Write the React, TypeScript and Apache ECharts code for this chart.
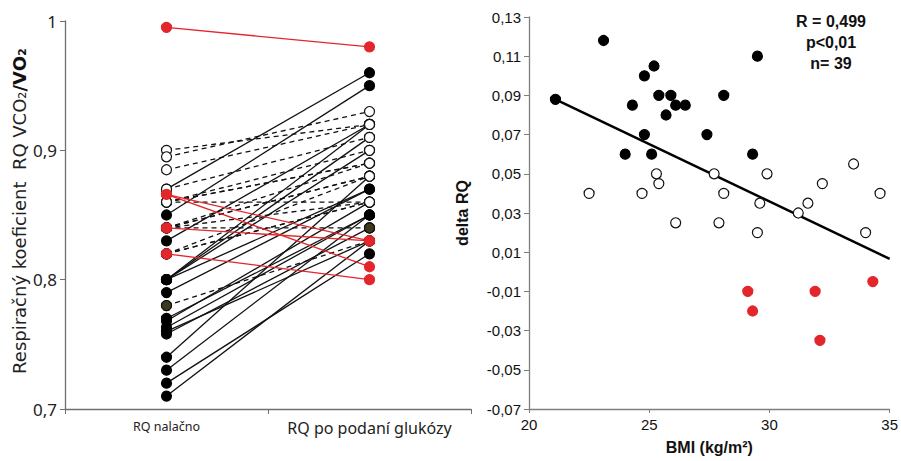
import React, { useEffect, useRef } from "react";
import * as echarts from "echarts";

// ---- Left panel: paired RQ values (before = nalačno, after = po glukóze)
const categories = ["RQ nalačno", "RQ po podaní glukózy"];
const leftTicks = [0.7, 0.8, 0.9, 1.0];

const openBefore = [0.9, 0.895, 0.885, 0.87, 0.86, 0.86, 0.84, 0.84, 0.84, 0.84, 0.82, 0.82, 0.82, 0.86, 0.84, 0.78, 0.86];
const openAfter = [0.92, 0.93, 0.92, 0.91, 0.9, 0.89, 0.88, 0.89, 0.88, 0.86, 0.88, 0.86, 0.86, 0.86, 0.84, 0.83, 0.89];

const blackBefore = [0.87, 0.85, 0.83, 0.8, 0.8, 0.8, 0.79, 0.8, 0.768, 0.763, 0.758, 0.74, 0.73, 0.72, 0.71, 0.77, 0.76];
const blackAfter = [0.96, 0.95, 0.92, 0.92, 0.91, 0.9, 0.87, 0.87, 0.86, 0.85, 0.84, 0.88, 0.85, 0.82, 0.83, 0.85, 0.83];

const redBefore = [0.995, 0.866, 0.866, 0.84, 0.82];
const redAfter = [0.98, 0.83, 0.81, 0.83, 0.8];

const oliveLeft = [0.78];
const oliveRight = [0.84];

// ---- Right panel: delta RQ vs BMI
const blackBMI = [21.1, 23.1, 24.8, 25.2, 24.3, 25.4, 25.9, 25.7, 26.1, 26.5, 24.8, 24.0, 25.1, 27.4, 28.1, 29.3, 29.5];
const blackDelta = [0.088, 0.118, 0.1, 0.105, 0.085, 0.09, 0.09, 0.08, 0.085, 0.085, 0.07, 0.06, 0.06, 0.07, 0.09, 0.06, 0.11];

const openBMI = [22.5, 24.7, 25.3, 25.4, 26.1, 27.7, 28.1, 27.9, 29.6, 29.5, 29.9, 31.2, 31.6, 32.2, 33.5, 34.0, 34.6];
const openDelta = [0.04, 0.04, 0.05, 0.045, 0.025, 0.05, 0.04, 0.025, 0.035, 0.02, 0.05, 0.03, 0.035, 0.045, 0.055, 0.02, 0.04];

const redBMI = [29.1, 29.3, 31.9, 32.1, 34.3];
const redDelta = [-0.01, -0.02, -0.01, -0.035, -0.005];

const trendBMI = [21.1, 35];
const trendDelta = [0.088, 0.0066];

const statLines = ["R = 0,499", "p<0,01", "n= 39"];

const RED = "#e3262b";
const OLIVE = "#3b3a1c";

export default function App() {
  const ref = useRef<HTMLDivElement>(null);

  useEffect(() => {
    if (!ref.current) return;
    const chart = echarts.init(ref.current, null, { renderer: "svg" });

    const pairSeries: any[] = [];
    const addPairs = (b: number[], a: number[], color: string, type: any) => {
      b.forEach((v, i) => {
        pairSeries.push({
          type: "line",
          xAxisIndex: 0,
          yAxisIndex: 0,
          data: [v, a[i]],
          symbol: "none",
          silent: true,
          z: 2,
          lineStyle: { color, width: 1.3, type },
        });
      });
    };
    addPairs(openBefore, openAfter, "#111", [5, 4]);
    addPairs(blackBefore, blackAfter, "#111", "solid");
    addPairs(redBefore, redAfter, RED, "solid");

    const pts = (b: number[], a: number[]) => [
      ...b.map((v) => [0, v]),
      ...a.map((v) => [1, v]),
    ];

    const leftMarker = (data: any[], fill: string, border: string, z: number) => ({
      type: "scatter",
      xAxisIndex: 0,
      yAxisIndex: 0,
      data,
      symbol: "circle",
      symbolSize: 10,
      z,
      itemStyle: { color: fill, borderColor: border, borderWidth: 1.2, opacity: 1 },
    });

    const rightMarker = (xs: number[], ys: number[], fill: string, border: string) => ({
      type: "scatter",
      xAxisIndex: 1,
      yAxisIndex: 1,
      data: xs.map((x, i) => [x, ys[i]]),
      symbol: "circle",
      symbolSize: 10,
      z: 4,
      itemStyle: { color: fill, borderColor: border, borderWidth: 1.2, opacity: 1 },
    });

    const fmtLeft = (v: number) => String(+v.toFixed(2)).replace(".", ",");
    const fmtRight = (v: number) => v.toFixed(2).replace(".", ",");

    chart.setOption({
      animation: false,
      grid: [
        { left: 65, top: 21, width: 406, height: 388 },
        { left: 529, top: 17, width: 363, height: 392 },
      ],
      xAxis: [
        {
          type: "category",
          gridIndex: 0,
          data: categories,
          boundaryGap: true,
          axisLine: { lineStyle: { color: "#6f6f6f", width: 1.3 } },
          axisTick: { show: true, length: 5, lineStyle: { color: "#6f6f6f" } },
          axisLabel: {
            margin: 11,
            interval: 0,
            formatter: (v: string) => (v === categories[0] ? `{a|${v}}` : `{b|${v}}`),
            rich: {
              a: { fontFamily: "Noto Sans", fontSize: 12.5, color: "#222" },
              b: { fontFamily: "Noto Sans", fontSize: 16, color: "#222" },
            },
          },
        },
        {
          type: "value",
          gridIndex: 1,
          min: 20,
          max: 35,
          interval: 5,
          splitLine: { show: false },
          axisLine: { onZero: false, lineStyle: { color: "#7f7f7f", width: 1.3 } },
          axisTick: { show: true, length: 4, lineStyle: { color: "#7f7f7f" } },
          axisLabel: { margin: 8, fontFamily: "Liberation Sans", fontSize: 15, color: "#111" },
          name: "BMI (kg/m²)",
          nameLocation: "middle",
          nameGap: 30,
          nameTextStyle: { fontFamily: "Liberation Sans", fontSize: 16, fontWeight: "bold", color: "#111" },
        },
      ],
      yAxis: [
        {
          type: "value",
          gridIndex: 0,
          min: leftTicks[0],
          max: leftTicks[leftTicks.length - 1],
          interval: 0.1,
          splitLine: { show: false },
          axisLine: { show: true, lineStyle: { color: "#6f6f6f", width: 1.3 } },
          axisTick: { show: true, length: 5, lineStyle: { color: "#6f6f6f" } },
          axisLabel: { margin: 8, fontFamily: "Noto Sans", fontSize: 17, color: "#222", formatter: fmtLeft },
        },
        {
          type: "value",
          gridIndex: 1,
          min: -0.07,
          max: 0.13,
          interval: 0.02,
          splitLine: { show: false },
          axisLine: { show: true, onZero: false, lineStyle: { color: "#7f7f7f", width: 1.3 } },
          axisTick: { show: true, length: 5, lineStyle: { color: "#7f7f7f" } },
          axisLabel: { margin: 8, fontFamily: "Liberation Sans", fontSize: 15, color: "#111", formatter: fmtRight },
          name: "delta RQ",
          nameLocation: "middle",
          nameGap: 59,
          nameTextStyle: { fontFamily: "Liberation Sans", fontSize: 16, fontWeight: "bold", color: "#111" },
        },
      ],
      graphic: [
        {
          type: "text",
          x: 19,
          y: 211,
          rotation: Math.PI / 2,
          style: {
            text: "{n|Respiračný koeficient  RQ VCO₂}{b|/VO₂}",
            align: "center",
            verticalAlign: "middle",
            rich: {
              n: { fontFamily: "DejaVu Sans", fontSize: 18, fill: "#222", fontWeight: "normal" },
              b: { fontFamily: "DejaVu Sans", fontSize: 18, fill: "#111", fontWeight: "bold" },
            },
          },
        },
        ...statLines.map((t, i) => ({
          type: "text",
          x: 831,
          y: 21 + i * 21,
          style: {
            text: t,
            align: "center",
            verticalAlign: "middle",
            fontFamily: "Liberation Sans",
            fontSize: 16,
            fontWeight: "bold",
            fill: "#111",
          },
        })),
      ],
      series: [
        ...pairSeries,
        leftMarker(pts(blackBefore, blackAfter), "#000", "#000", 3),
        leftMarker(pts(redBefore, redAfter), RED, RED, 4),
        leftMarker(pts(openBefore, openAfter), "#fff", "#111", 5),
        leftMarker([[0, redBefore[1]], [0, redBefore[3]], [0, redBefore[4]], [1, redAfter[1]]], RED, RED, 6),
        leftMarker([...oliveLeft.map((v) => [0, v]), ...oliveRight.map((v) => [1, v])], OLIVE, "#111", 7),
        {
          type: "line",
          xAxisIndex: 1,
          yAxisIndex: 1,
          data: trendBMI.map((x, i) => [x, trendDelta[i]]),
          symbol: "none",
          z: 3,
          lineStyle: { color: "#000", width: 2.5 },
        },
        rightMarker(blackBMI, blackDelta, "#000", "#000"),
        rightMarker(openBMI, openDelta, "#fff", "#111"),
        rightMarker(redBMI, redDelta, RED, RED),
      ],
    });

    return () => chart.dispose();
  }, []);

  return <div ref={ref} style={{ width: 901, height: 461, position: "absolute", left: 0, top: 0 }} />;
}
